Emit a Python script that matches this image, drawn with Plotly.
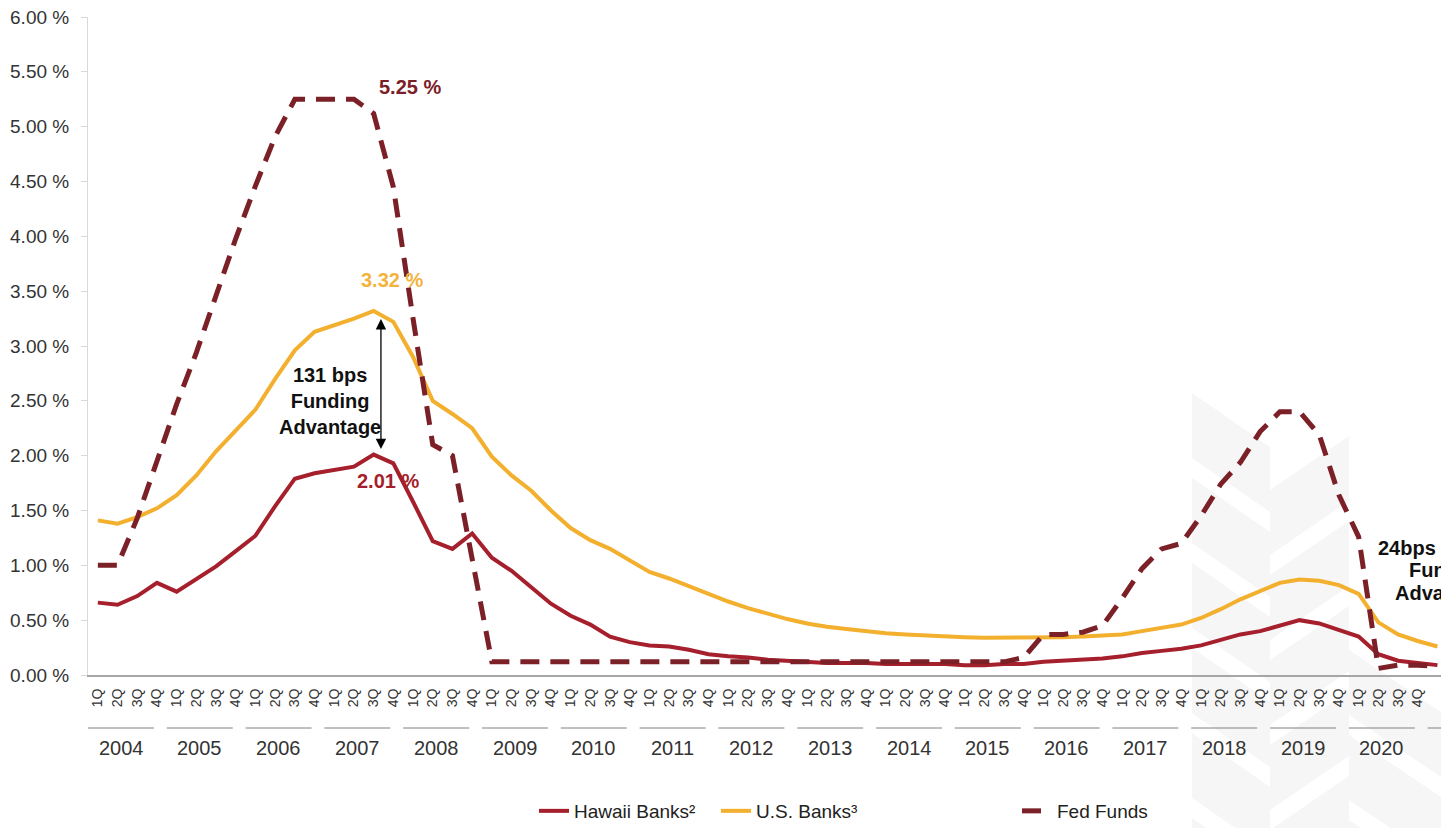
import plotly.graph_objects as go

# --- data (quarterly, 1Q 2004 .. 1Q 2021) ---
years = [str(y) for y in range(2004, 2021)]
quarter_names = ["1Q", "2Q", "3Q", "4Q"]
quarter_labels = [q for y in years for q in quarter_names] + ["1Q"]

hawaii_banks = [
    0.66, 0.64, 0.72, 0.84,   # 2004
    0.76, 0.88, 0.99, 1.13,   # 2005
    1.27, 1.54, 1.79, 1.84,   # 2006
    1.87, 1.90, 2.01, 1.93,   # 2007
    1.58, 1.22, 1.15, 1.29,   # 2008
    1.07, 0.95, 0.80, 0.65,   # 2009
    0.54, 0.46, 0.35, 0.30,   # 2010
    0.27, 0.26, 0.23, 0.19,   # 2011
    0.17, 0.16, 0.14, 0.13,   # 2012
    0.12, 0.11, 0.11, 0.11,   # 2013
    0.10, 0.10, 0.10, 0.10,   # 2014
    0.09, 0.09, 0.10, 0.10,   # 2015
    0.12, 0.13, 0.14, 0.15,   # 2016
    0.17, 0.20, 0.22, 0.24,   # 2017
    0.27, 0.32, 0.37, 0.40,   # 2018
    0.45, 0.50, 0.47, 0.41,   # 2019
    0.35, 0.19, 0.13, 0.11,   # 2020
    0.09,                     # 2021
]

us_banks = [
    1.41, 1.38, 1.44, 1.52,
    1.64, 1.82, 2.04, 2.23,
    2.42, 2.70, 2.96, 3.13,
    3.19, 3.25, 3.32, 3.22,
    2.90, 2.50, 2.38, 2.25,
    1.99, 1.82, 1.68, 1.50,
    1.34, 1.23, 1.15, 1.05,
    0.94, 0.88, 0.81, 0.74,
    0.67, 0.61, 0.56, 0.51,
    0.47, 0.44, 0.42, 0.40,
    0.38, 0.37, 0.36, 0.35,
    0.345, 0.34, 0.34, 0.34,
    0.34, 0.345, 0.35, 0.36,
    0.37, 0.40, 0.43, 0.46,
    0.52, 0.60, 0.69, 0.77,
    0.84, 0.87, 0.86, 0.82,
    0.74, 0.48, 0.37, 0.31,
    0.26,
]

fed_funds = [
    1.00, 1.00, 1.43, 1.95,
    2.47, 2.94, 3.46, 3.98,
    4.46, 4.91, 5.25, 5.25,
    5.25, 5.25, 5.12, 4.45,
    3.25, 2.10, 2.00, 1.08,
    0.12, 0.12, 0.12, 0.12,
    0.12, 0.12, 0.12, 0.12,
    0.12, 0.12, 0.12, 0.12,
    0.12, 0.12, 0.12, 0.12,
    0.12, 0.12, 0.12, 0.12,
    0.12, 0.12, 0.12, 0.12,
    0.12, 0.12, 0.12, 0.16,
    0.37, 0.37, 0.39, 0.45,
    0.70, 0.97, 1.15, 1.20,
    1.45, 1.74, 1.94, 2.22,
    2.40, 2.40, 2.19, 1.64,
    1.26, 0.06, 0.09, 0.09,
    0.08,
]

RED = "#A61F2C"
GOLD = "#F3AF2E"
MAROON = "#7B2027"
FONT = "Arial, Liberation Sans, sans-serif"

W, H = 1441, 828
L, T, B = 88, 17, 153          # plot area: x 88..1441, y 17..675

x = list(range(len(quarter_labels)))

fig = go.Figure()
fig.add_trace(go.Scatter(x=x, y=hawaii_banks, mode="lines", name="Hawaii Banks²",
                         line=dict(color=RED, width=4), legend="legend"))
fig.add_trace(go.Scatter(x=x, y=us_banks, mode="lines", name="U.S. Banks³",
                         line=dict(color=GOLD, width=4), legend="legend2"))
fig.add_trace(go.Scatter(x=x, y=fed_funds, mode="lines", name="Fed Funds",
                         line=dict(color=MAROON, width=5, dash="19px,11px"), legend="legend3"))


def px_x(px):
    return (px - L) / (W - L)


def px_y(py):
    return (H - B - py) / (H - B - T)


def poly(points):
    return "M " + " L ".join(f"{px_x(a):.4f},{px_y(b):.4f}" for a, b in points) + " Z"


shapes = []

# faint chevron watermark behind the right part of the chart
WM = "#f6f6f6"
for top in range(393, 828, 85):
    shapes.append(dict(type="path", xref="paper", yref="paper", layer="below", line_width=0,
                       fillcolor=WM, path=poly([(1192, top), (1270, top + 54), (1270, top + 119), (1192, top + 65)])))
for top in range(436, 828, 85):
    shapes.append(dict(type="path", xref="paper", yref="paper", layer="below", line_width=0,
                       fillcolor=WM, path=poly([(1270, top + 54), (1349, top), (1349, top + 65), (1270, top + 119)])))
for top in range(650, 828, 85):
    shapes.append(dict(type="path", xref="paper", yref="paper", layer="below", line_width=0,
                       fillcolor=WM, path=poly([(1349, top), (1441, top + 62), (1441, top + 127), (1349, top + 65)])))

# year group labels and their underlines
annotations = []
for k, yr in enumerate(years):
    shapes.append(dict(type="line", xref="x", yref="paper", x0=4 * k - 0.5, x1=4 * k + 2.85,
                       y0=px_y(728), y1=px_y(728), line=dict(color="#808080", width=1)))
    annotations.append(dict(text=yr, xref="x", yref="paper", x=4 * k + 1.175, y=px_y(748),
                            showarrow=False, xanchor="center", yanchor="middle",
                            font=dict(family=FONT, size=20, color="#333333")))
# 2021 group underline (cut at the right edge)
shapes.append(dict(type="line", xref="x", yref="paper", x0=67.5, x1=70.85,
                   y0=px_y(728), y1=px_y(728), line=dict(color="#808080", width=1)))

bold = dict(family=FONT, size=20, weight="bold")
annotations += [
    dict(text="5.25 %", x=15.85, y=5.36, showarrow=False, font=dict(bold, color=MAROON)),
    dict(text="3.32 %", x=14.95, y=3.60, showarrow=False, font=dict(bold, color="#F2B43F")),
    dict(text="2.01 %", x=14.75, y=1.77, showarrow=False, font=dict(bold, color=RED)),
    dict(text="131 bps<br>Funding<br>Advantage", x=11.8, y=2.50, showarrow=False,
         align="center", font=dict(bold, color="#111111")),
    dict(text="24bps", x=64.9, y=1.16, xanchor="left", showarrow=False, font=dict(bold, color="#111111")),
    dict(text="Funding", x=66.45, y=0.955, xanchor="left", showarrow=False, font=dict(bold, color="#111111")),
    dict(text="Advantage", x=65.74, y=0.75, xanchor="left", showarrow=False, font=dict(bold, color="#111111")),
    # double-headed arrow: funding advantage 2007 3Q
    dict(text="", x=14.37, y=2.06, ax=14.37, ay=3.26, axref="x", ayref="y",
         showarrow=True, arrowhead=2, startarrowhead=2, arrowside="end+start",
         arrowsize=1.6, startarrowsize=1.6, arrowwidth=1.3, arrowcolor="#000000"),
]

legend_common = dict(orientation="h", xref="container", yref="container", yanchor="middle",
                     y=1 - 811 / H, font=dict(family=FONT, size=19, color="#222222"),
                     bgcolor="rgba(0,0,0,0)", xanchor="left")

fig.update_layout(
    template="none",
    width=W, height=H,
    margin=dict(l=L, r=0, t=T, b=B, autoexpand=False),
    plot_bgcolor="rgba(0,0,0,0)", paper_bgcolor="white",
    font=dict(family=FONT, color="#333333"),
    showlegend=True,
    shapes=shapes,
    annotations=annotations,
    legend=dict(legend_common, x=(575 - 41) / W),
    legend2=dict(legend_common, x=(757 - 41) / W),
    legend3=dict(legend_common, x=(1058 - 41) / W),
    xaxis=dict(
        range=[-0.5, 68.18], tickmode="array", tickvals=x, ticktext=quarter_labels,
        tickangle=-90, tickfont=dict(family=FONT, size=14, color="#333333"),
        showline=True, linecolor="#a6a6a6", linewidth=2, ticks="", showgrid=False,
        zeroline=False, automargin=False, ticklabelstandoff=6,
    ),
    yaxis=dict(
        range=[0, 6], dtick=0.5, tick0=0, tickformat=".2f", ticksuffix=" %",
        tickfont=dict(family=FONT, size=19, color="#333333"),
        showline=True, linecolor="#d9d9d9", linewidth=1, ticks="outside", ticklen=6,
        tickcolor="#d9d9d9", showgrid=False, zeroline=False, automargin=False,
        ticklabelstandoff=8,
    ),
)

fig.write_html("out.html", config={"displayModeBar": False},
               post_script="document.body.style.margin='0';document.body.style.overflow='hidden';")
